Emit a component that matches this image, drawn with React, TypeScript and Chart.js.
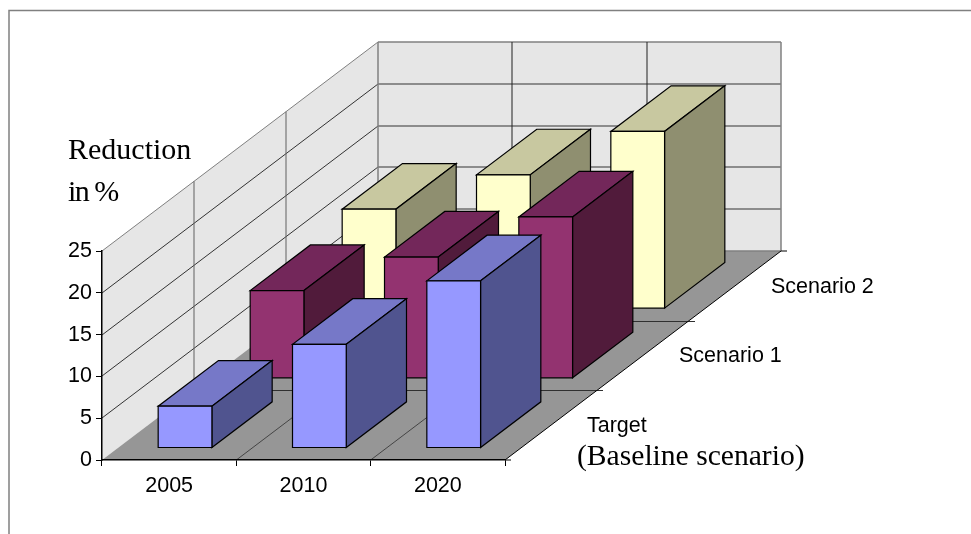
import React, { useEffect, useRef } from "react";
import { Chart, registerables } from "chart.js";

Chart.register(...registerables);

const years = ["2005", "2010", "2020"];
const seriesNames = ["Target", "Scenario 1", "Scenario 2"];
const targetValues = [5, 12.4, 20];
const scenario1Values = [10.5, 14.5, 19.3];
const scenario2Values = [11.9, 16, 21.2];
const frontColors = ["#9698FF", "#933370", "#FFFFCC"];
const topColors = ["#7678C8", "#73275A", "#C8C8A0"];
const sideColors = ["#50548F", "#511B3B", "#8F8F70"];

const DEPTH_X = 276;
const DEPTH_Y = -209;
const BAR_DEPTH = 0.655 / 3;
const SANS = '"Liberation Sans", Arial, sans-serif';
const SERIF = '"Liberation Serif", "Times New Roman", serif';

function poly(ctx: CanvasRenderingContext2D, pts: number[][], fill?: string, stroke?: string, lw = 1) {
  ctx.beginPath();
  pts.forEach((p, i) => (i ? ctx.lineTo(p[0], p[1]) : ctx.moveTo(p[0], p[1])));
  if (fill) {
    ctx.closePath();
    ctx.fillStyle = fill;
    ctx.fill();
  }
  if (stroke) {
    ctx.strokeStyle = stroke;
    ctx.lineWidth = lw;
    ctx.stroke();
  }
}

const scene3d = {
  id: "scene3d",
  beforeDraw(chart: any) {
    const { ctx, scales } = chart;
    const x = scales.x;
    const y = scales.y;
    const depth = scales.depth;
    const L = x.left;
    const R = x.right;
    const B = y.bottom;
    const T = y.top;
    ctx.save();
    ctx.fillStyle = "#fff";
    ctx.fillRect(0, 0, chart.width, chart.height);
    // outer frame: only its top and left edges fall inside the picture
    poly(ctx, [[9, 600], [9, 10.5], [chart.width + 2, 10.5]], undefined, "#808080", 1.5);
    // walls and floor
    poly(ctx, [[L, T], [L + DEPTH_X, T + DEPTH_Y], [L + DEPTH_X, B + DEPTH_Y], [L, B]], "#E6E6E6");
    poly(ctx, [[L + DEPTH_X, T + DEPTH_Y], [R + DEPTH_X, T + DEPTH_Y], [R + DEPTH_X, B + DEPTH_Y], [L + DEPTH_X, B + DEPTH_Y]], "#E6E6E6");
    poly(ctx, [[L, B], [R, B], [R + DEPTH_X, B + DEPTH_Y], [L + DEPTH_X, B + DEPTH_Y]], "#969696");

    // value gridlines across both walls
    y.ticks.forEach((_: any, i: number) => {
      const py = Math.round(y.getPixelForTick(i));
      const top = i === y.ticks.length - 1;
      const col = top ? "#808080" : "#333333";
      if (i > 0) {
        poly(ctx, [[L, py], [L + DEPTH_X, py + DEPTH_Y]], undefined, col, 1);
        poly(ctx, [[L + DEPTH_X, py + DEPTH_Y], [R + DEPTH_X, py + DEPTH_Y]], undefined, col, top ? 1.5 : 1);
      }
    });
    // depth dividers on left wall and floor
    seriesNames.forEach((_, i) => {
      if (i === 0) return;
      const t = i / seriesNames.length;
      const dx = DEPTH_X * t;
      const dy = DEPTH_Y * t;
      poly(ctx, [[Math.round(L + dx), T + dy], [Math.round(L + dx), B + dy]], undefined, "#606060", 1);
      const fy = Math.round(B + dy) + 0.5;
      poly(ctx, [[L + dx, fy], [R + dx + 6, fy]], undefined, "#303030", 1);
    });
    // category dividers on floor and back wall
    [1, 2].forEach((i) => {
      const px = L + ((R - L) * i) / years.length;
      poly(ctx, [[px, B], [px + DEPTH_X, B + DEPTH_Y]], undefined, "#303030", 0.8);
      const bx = Math.round(px + DEPTH_X);
      poly(ctx, [[bx, T + DEPTH_Y], [bx, B + DEPTH_Y]], undefined, "#202020", 1);
    });
    // wall edges
    poly(ctx, [[L + DEPTH_X, T + DEPTH_Y], [L + DEPTH_X, B + DEPTH_Y]], undefined, "#808080", 1.5);
    poly(ctx, [[R + DEPTH_X, T + DEPTH_Y], [R + DEPTH_X, B + DEPTH_Y]], undefined, "#808080", 1.5);
    poly(ctx, [[L + DEPTH_X, B + DEPTH_Y], [R + DEPTH_X, B + DEPTH_Y]], undefined, "#808080", 1.5);
    // front-right floor edge with its ticks
    poly(ctx, [[R, B], [R + DEPTH_X, B + DEPTH_Y]], undefined, "#000", 1);
    poly(ctx, [[R + DEPTH_X, B + DEPTH_Y], [R + DEPTH_X + 6, B + DEPTH_Y]], undefined, "#000", 1);
    poly(ctx, [[R, B], [R + 6, B]], undefined, "#000", 1);

    // depth category labels
    ctx.fillStyle = "#000";
    ctx.font = `21.5px ${SANS}`;
    ctx.textAlign = "left";
    ctx.textBaseline = "middle";
    seriesNames.forEach((name, i) => {
      const t = (depth.getPixelForValue(i) - depth.left) / depth.width;
      ctx.fillText(name, R + DEPTH_X * t + 36, B + DEPTH_Y * t + 1);
    });
    ctx.restore();
  },
  beforeDatasetDraw(chart: any, args: any) {
    const { ctx, scales } = chart;
    const depth = scales.depth;
    const s = args.index;
    const t = (depth.getPixelForValue(s) - depth.left) / depth.width;
    const t0 = t - BAR_DEPTH / 2;
    const t1 = t + BAR_DEPTH / 2;
    ctx.save();
    ctx.lineJoin = "miter";
    args.meta.data.forEach((el: any) => {
      const xl = el.x - el.width / 2;
      const xr = el.x + el.width / 2;
      const P = (px: number, py: number, k: number) => [px + DEPTH_X * k, py + DEPTH_Y * k];
      poly(ctx, [P(xl, el.y, t0), P(xr, el.y, t0), P(xr, el.y, t1), P(xl, el.y, t1)], topColors[s], "#000", 1.2);
      poly(ctx, [P(xr, el.y, t0), P(xr, el.base, t0), P(xr, el.base, t1), P(xr, el.y, t1)], sideColors[s], "#000", 1.2);
      poly(ctx, [P(xl, el.y, t0), P(xr, el.y, t0), P(xr, el.base, t0), P(xl, el.base, t0)], frontColors[s], "#000", 1.2);
    });
    ctx.restore();
    return false;
  },
  afterDraw(chart: any) {
    const { ctx } = chart;
    ctx.save();
    ctx.fillStyle = "#000";
    ctx.textBaseline = "alphabetic";
    ctx.textAlign = "left";
    ctx.font = `30px ${SERIF}`;
    ctx.fillText("Reduction", 68, 159);
    (ctx as any).letterSpacing = "-1.5px";
    ctx.fillText("in %", 68, 201);
    (ctx as any).letterSpacing = "0px";
    ctx.font = `29.6px ${SERIF}`;
    ctx.fillText("(Baseline scenario)", 577, 465);
    ctx.restore();
  },
};

export default function App() {
  const ref = useRef<HTMLCanvasElement>(null);
  useEffect(() => {
    const chart = new Chart(ref.current as HTMLCanvasElement, {
      type: "bar",
      data: {
        labels: years,
        datasets: [
          { label: seriesNames[0], data: targetValues, backgroundColor: frontColors[0] },
          { label: seriesNames[1], data: scenario1Values, backgroundColor: frontColors[1] },
          { label: seriesNames[2], data: scenario2Values, backgroundColor: frontColors[2] },
        ],
      },
      plugins: [scene3d],
      options: {
        responsive: false,
        animation: false,
        events: [],
        layout: { padding: { left: 0, top: 251, right: 466, bottom: 24 } },
        datasets: { bar: { grouped: false, categoryPercentage: 1, barPercentage: 0.4 } },
        plugins: { legend: { display: false }, tooltip: { enabled: false }, title: { display: false } },
        scales: {
          x: {
            type: "category",
            position: "bottom",
            afterFit: (s: any) => { s.height = 50; },
            grid: { drawOnChartArea: false, drawTicks: true, tickLength: 6, tickColor: "#000", offset: true },
            border: { display: true, color: "#000", width: 1.5 },
            ticks: { color: "#000", font: { family: SANS, size: 21.5 }, padding: 7, maxRotation: 0 },
          },
          depth: {
            type: "category",
            axis: "x",
            position: "bottom",
            display: false,
            labels: seriesNames,
            offset: true,
          },
          y: {
            type: "linear",
            min: 0,
            max: 25,
            afterFit: (s: any) => { s.width = 102; },
            grid: { drawOnChartArea: false, drawTicks: true, tickLength: 6, tickColor: "#000" },
            border: { display: true, color: "#000", width: 1.5 },
            ticks: { stepSize: 5, color: "#000", font: { family: SANS, size: 21.5 }, padding: 4 },
          },
        },
      } as any,
    });
    return () => chart.destroy();
  }, []);
  return (
    <div style={{ position: "absolute", left: 0, top: 0, width: 971, height: 534, overflow: "hidden" }}>
      <canvas ref={ref} width={971} height={534} style={{ display: "block" }} />
    </div>
  );
}
